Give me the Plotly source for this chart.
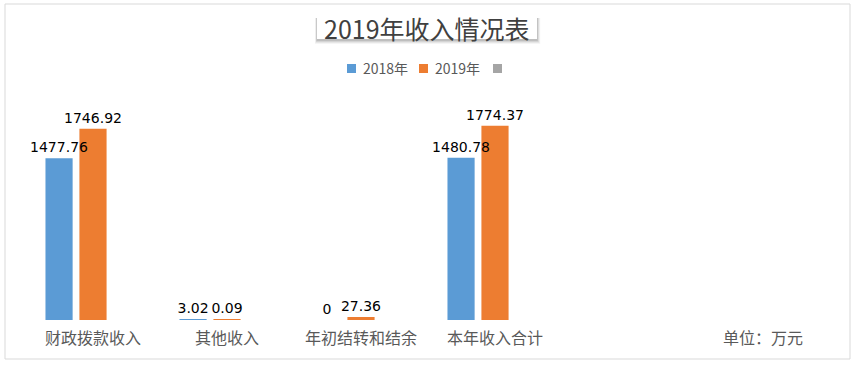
import plotly.graph_objects as go

categories = ["财政拨款收入", "其他收入", "年初结转和结余", "本年收入合计", " ", "单位：万元"]
values_2018 = [1477.76, 3.02, 0, 1480.78, None, None]
values_2019 = [1746.92, 0.09, 27.36, 1774.37, None, None]
values_other = [None, None, None, None, None, None]
series_names = ["2018年", "2019年", ""]
colors = ["#5B9BD5", "#ED7D31", "#A5A5A5"]
zorders = [2, 1, 0]
title_text = "2019年收入情况表"

W, H = 857, 365
ML, MR, MT, MB = 26, 27, 101, 45
PW, PH = W - ML - MR, H - MT - MB


def px(x):
    return (x - ML) / PW


def py(y):
    return (H - MB - y) / PH


def fmt(v):
    if v is None:
        return None
    return ("%g" % v)


fig = go.Figure()
for name, vals, col, z in zip(series_names, [values_2018, values_2019, values_other], colors, zorders):
    fig.add_trace(go.Bar(
        x=categories, y=vals, name=name,
        marker=dict(color=col, line=dict(width=0)),
        text=[fmt(v) if name else None for v in vals],
        textposition="outside",
        constraintext="none",
        textfont=dict(family="DejaVu Sans", size=14, color="#000000"),
        cliponaxis=False,
        showlegend=False,
        hoverinfo="skip",
        zorder=z,
    ))

shapes = []
# outer border
shapes.append(dict(type="rect", xref="paper", yref="paper",
                   x0=px(5), x1=px(850), y0=py(359), y1=py(4),
                   line=dict(color="#D9D9D9", width=1), fillcolor="rgba(0,0,0,0)", layer="below"))
# title shadow layers (soft)
for d, op in [(4, 0.04), (3, 0.06), (2, 0.08), (1, 0.10)]:
    shapes.append(dict(type="rect", xref="paper", yref="paper",
                       x0=px(317 - d * 0.5), x1=px(537 + d * 0.8), y0=py(39 + d + 1), y1=py(18),
                       line=dict(width=0), fillcolor="rgba(0,0,0,%.2f)" % op, layer="above"))
shapes.append(dict(type="rect", xref="paper", yref="paper",
                   x0=px(317), x1=px(537), y0=py(39), y1=py(15),
                   line=dict(width=0), fillcolor="#FFFFFF", layer="above"))

# manual legend squares
legend_sq = [(347, 356), (419, 428), (493, 502)]
for (x0, x1), col in zip(legend_sq, colors):
    shapes.append(dict(type="rect", xref="paper", yref="paper",
                       x0=px(x0), x1=px(x1), y0=py(73), y1=py(64),
                       line=dict(width=0), fillcolor=col))

annotations = [
    dict(text=title_text, xref="paper", yref="paper", x=px(427), y=py(28),
         xanchor="center", yanchor="middle", showarrow=False,
         font=dict(family="Noto Sans CJK SC", size=25, color="#404040")),
]
legend_txt_x = [361, 433]
for name, x in zip(series_names[:2], legend_txt_x):
    annotations.append(dict(text=name, xref="paper", yref="paper", x=px(x), y=py(68.5),
                            xanchor="left", yanchor="middle", showarrow=False,
                            font=dict(family="Noto Sans CJK SC", size=14, color="#595959")))

fig.update_layout(
    width=W, height=H,
    margin=dict(l=ML, r=MR, t=MT, b=MB),
    paper_bgcolor="#FFFFFF", plot_bgcolor="#FFFFFF",
    barmode="group", bargap=0.24, bargroupgap=0.2,
    showlegend=False,
    shapes=shapes, annotations=annotations,
    xaxis=dict(showline=True, linecolor="#D9D9D9", linewidth=1, ticks="",
               showgrid=False, zeroline=False, ticklabelstandoff=4,
               tickfont=dict(family="Noto Sans CJK SC", size=16, color="#595959")),
    yaxis=dict(range=[0, 2000], visible=False, showgrid=False, zeroline=False),
)

fig.write_html("out.html", config={"displayModeBar": False},
               post_script="document.body.style.margin='0';")
